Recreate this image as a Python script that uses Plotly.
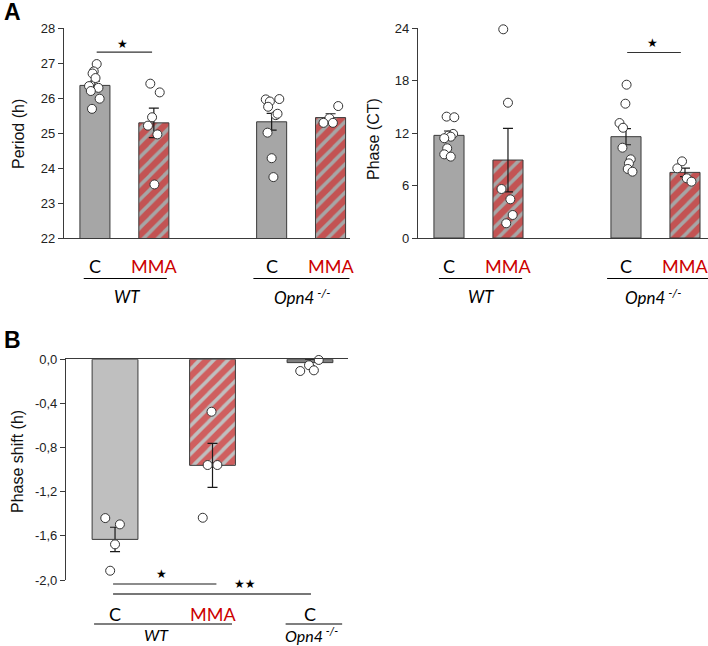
import plotly.graph_objects as go

# ---------- data ----------
pos_a = [0, 1, 3, 4]          # WT C, WT MMA, Opn4 C, Opn4 MMA
pos_b = [0, 1, 2]             # WT C, WT MMA, Opn4 C

period_mean = [26.36, 25.29, 25.32, 25.44]
period_sem = [0.12, 0.42, 0.24, 0.11]
period_pts = [
    [26.97, 26.76, 26.70, 26.57, 26.34, 26.29, 26.20, 25.98, 25.69],
    [26.41, 26.16, 25.45, 25.21, 24.96, 23.53],
    [25.96, 25.90, 25.97, 25.75, 25.51, 25.55, 25.01, 24.28, 23.74],
    [25.42, 25.29, 25.29, 25.77],
]
period_jit = [
    [0.03, -0.02, -0.04, 0.01, -0.10, 0.06, -0.07, 0.08, -0.05],
    [-0.06, 0.10, -0.03, -0.10, 0.06, 0.01],
    [-0.10, -0.03, 0.13, -0.06, 0.07, 0.10, -0.07, 0.0, 0.03],
    [-0.02, -0.12, 0.04, 0.13],
]

phase_mean = [11.73, 8.91, 11.58, 7.50]
phase_sem = [0.5, 3.63, 0.92, 0.48]
phase_pts = [
    [13.87, 13.80, 11.90, 11.70, 11.58, 11.40, 10.25, 9.56, 9.30],
    [23.85, 15.46, 5.60, 4.42, 2.63, 1.68],
    [17.52, 15.35, 13.14, 12.60, 10.32, 8.99, 8.53, 7.89, 7.58],
    [8.76, 7.96, 6.82, 6.44],
]
phase_jit = [
    [-0.04, 0.09, 0.07, -0.01, 0.03, -0.08, -0.03, -0.08, 0.03],
    [-0.08, 0.0, -0.11, 0.04, 0.08, -0.03],
    [0.01, -0.01, -0.11, -0.05, -0.06, 0.08, 0.05, 0.03, 0.11],
    [-0.05, -0.13, 0.03, 0.11],
]

shift_mean = [-1.632, -0.961, -0.03]
shift_sem = [0.11, 0.20, 0.03]
shift_pts = [
    [-1.439, -1.496, -1.677, -1.916],
    [-0.475, -0.958, -0.958, -1.436],
    [-0.006, -0.054, -0.106, -0.100],
]
shift_jit = [
    [-0.10, 0.05, 0.0, -0.05],
    [-0.01, -0.05, 0.05, -0.10],
    [0.09, -0.01, -0.10, 0.04],
]

period_ticks = [22, 23, 24, 25, 26, 27, 28]
phase_ticks = [0, 6, 12, 18, 24]
shift_ticks = [0, -0.4, -0.8, -1.2, -1.6, -2.0]
shift_ticktext = ['0,0', '-0,4', '-0,8', '-1,2', '-1,6', '-2,0']

# ---------- style ----------
W, H = 708, 646
GREY = '#a6a6a6'
LGREY = '#bfbfbf'
DGREY = '#7f7f7f'
RED = '#e00000'
TXTRED = '#cc0000'
LINE = '#3a3a3a'
TICKF = dict(family='Liberation Sans, Arial', size=13, color='#222')
LABF = 'Lato, Calibri, Open Sans'

def hatch(bg):
    return dict(shape='/', fgcolor=RED, bgcolor=bg, size=10, solidity=0.65)

fig = go.Figure()

def add_panel(xa, ya, pos, mean, sem, pts, jit, colors, hatched, width):
    for i in range(len(pos)):
        mk = dict(color=colors[i], line=dict(color=LINE, width=1))
        if hatched[i]:
            mk['pattern'] = hatch(colors[i])
        fig.add_trace(go.Bar(x=[pos[i]], y=[mean[i]], width=width, marker=mk,
                             error_y=dict(type='data', array=[sem[i]], color='#1a1a1a',
                                          thickness=1.2, width=5),
                             xaxis=xa, yaxis=ya, showlegend=False))
    for i in range(len(pos)):
        fig.add_trace(go.Scatter(x=[pos[i] + j for j in jit[i]], y=pts[i], mode='markers',
                                 marker=dict(size=9, color='white', line=dict(color='#333', width=1)),
                                 xaxis=xa, yaxis=ya, showlegend=False, cliponaxis=False))

add_panel('x', 'y', pos_a, period_mean, period_sem, period_pts, period_jit,
          [GREY] * 4, [False, True, False, True], 0.51)
add_panel('x2', 'y2', pos_a, phase_mean, phase_sem, phase_pts, phase_jit,
          [GREY] * 4, [False, True, False, True], 0.51)
add_panel('x3', 'y3', pos_b, shift_mean, shift_sem, shift_pts, shift_jit,
          [LGREY, LGREY, DGREY], [False, True, False], 0.47)

def py(px):
    return 1 - px / H

xax = dict(showline=True, linecolor=LINE, linewidth=1.2, ticks='', showticklabels=False,
           showgrid=False, zeroline=False, automargin=False, fixedrange=True)
yax = dict(showline=True, linecolor=LINE, linewidth=1.2, ticks='outside', ticklen=5,
           tickcolor=LINE, tickfont=TICKF, showgrid=False, zeroline=False,
           automargin=False, fixedrange=True)

fig.update_layout(
    width=W, height=H, margin=dict(l=0, r=0, t=0, b=0, autoexpand=False),
    paper_bgcolor='white', plot_bgcolor='white',
    xaxis=dict(xax, domain=[64 / W, 350 / W], range=[-0.525, 4.33], anchor='y'),
    yaxis=dict(yax, domain=[py(238), py(28)], range=[22, 28], tickvals=period_ticks, anchor='x'),
    xaxis2=dict(xax, domain=[418 / W, 1], range=[-0.525, 4.39], anchor='y2'),
    yaxis2=dict(yax, domain=[py(238), py(28)], range=[0, 24], tickvals=phase_ticks, anchor='x2'),
    xaxis3=dict(xax, domain=[66 / W, 348 / W], range=[-0.503, 2.39], anchor='y3', side='top'),
    yaxis3=dict(yax, domain=[py(580), py(359.3)], range=[-2, 0], tickvals=shift_ticks,
                ticktext=shift_ticktext, anchor='x3'),
)

ann = []
shp = []

def label(xa, x, ypx, text, color='black', size=18, italic=False):
    t = '<i>' + text + '</i>' if italic else text
    ann.append(dict(xref=xa, yref='paper', x=x, y=py(ypx), text=t, showarrow=False,
                    font=dict(family=LABF, size=size, color=color), xanchor='center', yanchor='middle'))

def hline(xa, x0, x1, ypx, color='black', w=1.2):
    shp.append(dict(type='line', xref=xa, yref='paper', x0=x0, x1=x1, y0=py(ypx), y1=py(ypx),
                    line=dict(color=color, width=w)))

def paper_text(xpx, ypx, text, font, angle=0):
    ann.append(dict(xref='paper', yref='paper', x=xpx / W, y=py(ypx), text=text, textangle=angle,
                    showarrow=False, font=font, xanchor='center', yanchor='middle'))

OPN = 'Opn4<sup> -/-</sup>'

# panel A group labels
for xa, wt_rng, op_rng, wt_c, op_c in [('x', (-0.19, 1.22), (2.69, 4.32), 0.54, 3.53),
                                       ('x2', (-0.17, 1.24), (2.68, 4.39), 0.54, 3.47)]:
    label(xa, 0, 266, 'C')
    label(xa, 1, 266, 'MMA', TXTRED)
    label(xa, 3, 266, 'C')
    label(xa, 4, 266, 'MMA', TXTRED)
    hline(xa, wt_rng[0], wt_rng[1], 278.5)
    hline(xa, op_rng[0], op_rng[1], 278.5)
    label(xa, wt_c, 296, 'WT', size=17, italic=True)
    label(xa, op_c, 296, OPN, size=17, italic=True)

# panel B group labels
label('x3', 0, 614, 'C')
label('x3', 1, 614, 'MMA', TXTRED)
label('x3', 2, 614, 'C')
hline('x3', -0.215, 1.2, 624)
hline('x3', 1.75, 2.33, 624)
label('x3', 0.43, 634, 'WT', size=16, italic=True)
label('x3', 2.02, 634, OPN, size=16, italic=True)

# significance marks
STAR = dict(family='DejaVu Sans', size=12, color='black')
shp.append(dict(type='line', xref='x', yref='y', x0=0.03, x1=0.97, y0=27.31, y1=27.31,
                line=dict(color='#333', width=1.2)))
ann.append(dict(xref='x', yref='y', x=0.46, y=27.54, text='★', showarrow=False, font=STAR))
shp.append(dict(type='line', xref='x2', yref='y2', x0=3.02, x1=3.93, y0=21.2, y1=21.2,
                line=dict(color='#333', width=1.2)))
ann.append(dict(xref='x2', yref='y2', x=3.45, y=22.25, text='★', showarrow=False, font=STAR))
hline('x3', -0.02, 1.04, 584, '#666', 1.6)
hline('x3', -0.02, 2.01, 594, '#777', 2)
ann.append(dict(xref='x3', yref='paper', x=0.48, y=py(574), text='★', showarrow=False,
                font=dict(STAR, size=12), xanchor='center', yanchor='middle'))
ann.append(dict(xref='x3', yref='paper', x=1.33, y=py(584), text='★★', showarrow=False,
                font=dict(STAR, size=12), xanchor='center', yanchor='middle'))

# axis titles and panel letters
TITF = dict(family='Liberation Sans, Arial', size=16, color='#111')
paper_text(19, 134, 'Period (h)', TITF, -90)
paper_text(373, 139, 'Phase (CT)', TITF, -90)
paper_text(17, 462, 'Phase shift (h)', TITF, -90)
LETF = dict(family='Liberation Sans, Arial', size=23, color='black')
paper_text(12, 12, '<b>A</b>', LETF)
paper_text(12, 340, '<b>B</b>', LETF)

fig.update_layout(annotations=ann, shapes=shp)
fig.write_html("out.html", config={'displayModeBar': False},
               post_script="document.body.style.margin='0';")
